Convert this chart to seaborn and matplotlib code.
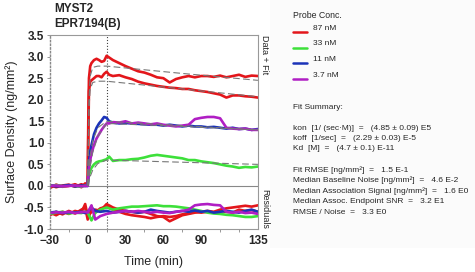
import numpy as np
import pandas as pd
import matplotlib
matplotlib.use("Agg")
import matplotlib.pyplot as plt
import seaborn as sns

# time grid (min) for the sensorgrams
t_data = [-30, -25, -20, -15, -10, -5, -2, 0, 0.5, 1, 2, 3, 5, 7, 9, 11, 13, 15, 17,
          20, 25, 30, 35, 40, 45, 50, 55, 60, 65, 70, 75, 80, 85, 90, 95, 100, 105,
          110, 115, 120, 125, 130, 135]

red_a = [0.02, -0.03, 0.01, 0.03, -0.02, 0.04, 0.00, 0.05, 1.60, 2.50, 2.78, 2.85, 2.92,
         2.95, 2.92, 2.88, 2.90, 3.02, 2.98, 2.92, 2.85, 2.78, 2.72, 2.66, 2.63, 2.58,
         2.52, 2.50, 2.40, 2.48, 2.52, 2.55, 2.52, 2.55, 2.55, 2.53, 2.56, 2.52, 2.55,
         2.58, 2.53, 2.56, 2.55]
red_b = [-0.05, 0.03, -0.02, 0.00, 0.04, -0.03, 0.06, 0.02, 1.20, 2.20, 2.42, 2.45, 2.50,
         2.55, 2.55, 2.52, 2.60, 2.65, 2.58, 2.55, 2.57, 2.52, 2.48, 2.42, 2.38, 2.35,
         2.32, 2.30, 2.28, 2.27, 2.25, 2.25, 2.22, 2.20, 2.18, 2.15, 2.12, 2.05, 2.10,
         2.10, 2.08, 2.07, 2.05]
green = [0.00, 0.02, -0.01, 0.01, 0.00, -0.02, 0.01, 0.02, 0.15, 0.25, 0.35, 0.42, 0.50,
         0.55, 0.57, 0.58, 0.60, 0.62, 0.68, 0.58, 0.60, 0.60, 0.62, 0.63, 0.66, 0.70,
         0.72, 0.70, 0.68, 0.66, 0.64, 0.60, 0.60, 0.57, 0.55, 0.53, 0.50, 0.47, 0.45,
         0.42, 0.44, 0.43, 0.45]
blue = [0.01, -0.01, 0.00, 0.02, -0.01, 0.01, 0.00, 0.00, 0.30, 0.55, 0.80, 0.95, 1.20,
        1.35, 1.45, 1.52, 1.60, 1.58, 1.50, 1.47, 1.45, 1.46, 1.45, 1.44, 1.43, 1.42,
        1.42, 1.40, 1.42, 1.40, 1.38, 1.40, 1.38, 1.38, 1.36, 1.37, 1.35, 1.33, 1.35,
        1.32, 1.33, 1.30, 1.32]
purple = [0.00, 0.01, -0.01, 0.00, 0.01, -0.01, 0.00, 0.00, 0.20, 0.40, 0.60, 0.75, 0.95,
          1.10, 1.20, 1.30, 1.38, 1.45, 1.45, 1.48, 1.47, 1.50, 1.45, 1.47, 1.45, 1.43,
          1.45, 1.42, 1.40, 1.38, 1.40, 1.42, 1.55, 1.58, 1.60, 1.60, 1.57, 1.35, 1.33,
          1.32, 1.33, 1.30, 1.30]

# global fit curves
t_fit = [0, 1, 2, 4, 8, 15, 75, 135]
fit_red_a = [0.0, 2.00, 2.55, 2.75, 2.78, 2.78, 2.61, 2.45]
fit_red_b = [0.0, 1.80, 2.25, 2.40, 2.43, 2.43, 2.25, 2.07]
fit_green = [0.0, 0.12, 0.22, 0.37, 0.52, 0.60, 0.55, 0.50]
fit_blue = [0.0, 0.40, 0.70, 1.05, 1.35, 1.50, 1.40, 1.30]
fit_purple = [0.0, 0.25, 0.45, 0.78, 1.15, 1.45, 1.38, 1.30]

# residuals (drawn offset below zero)
t_res = [-30, -25, -20, -15, -10, -5, -2, 0, 3, 6, 10, 15, 20, 25, 30, 35, 40, 45, 50, 55,
         60, 65, 70, 75, 80, 85, 90, 95, 100, 105, 110, 115, 120, 125, 130, 135]
res_red_a = [-0.62, -0.68, -0.60, -0.65, -0.58, -0.62, -0.42, -0.70, -0.60, -0.55, -0.58,
             -0.42, -0.50, -0.55, -0.58, -0.60, -0.62, -0.60, -0.65, -0.70, -0.72, -0.82,
             -0.75, -0.68, -0.65, -0.62, -0.60, -0.58, -0.60, -0.55, -0.52, -0.50, -0.48,
             -0.46, -0.48, -0.45]
res_red_b = [-0.68, -0.60, -0.66, -0.58, -0.64, -0.55, -0.50, -0.78, -0.55, -0.62, -0.52,
             -0.48, -0.55, -0.60, -0.65, -0.68, -0.70, -0.72, -0.75, -0.72, -0.70, -0.72,
             -0.70, -0.66, -0.64, -0.60, -0.62, -0.60, -0.62, -0.58, -0.60, -0.62, -0.55,
             -0.58, -0.56, -0.60]
res_green = [-0.65, -0.62, -0.60, -0.64, -0.62, -0.63, -0.60, -0.62, -0.80, -0.62, -0.55,
             -0.50, -0.55, -0.52, -0.50, -0.48, -0.48, -0.47, -0.46, -0.45, -0.47, -0.47,
             -0.48, -0.50, -0.52, -0.55, -0.58, -0.62, -0.64, -0.65, -0.67, -0.68, -0.70,
             -0.72, -0.72, -0.70]
res_blue = [-0.62, -0.60, -0.63, -0.61, -0.62, -0.60, -0.63, -0.60, -0.50, -0.58, -0.60,
            -0.58, -0.62, -0.60, -0.58, -0.60, -0.62, -0.60, -0.55, -0.58, -0.60, -0.62,
            -0.60, -0.58, -0.60, -0.57, -0.60, -0.58, -0.62, -0.60, -0.58, -0.60, -0.62,
            -0.58, -0.55, -0.60]
res_purple = [-0.63, -0.61, -0.62, -0.60, -0.63, -0.61, -0.60, -0.62, -0.45, -0.78, -0.70,
              -0.65, -0.62, -0.60, -0.58, -0.60, -0.58, -0.60, -0.62, -0.60, -0.62, -0.63,
              -0.60, -0.58, -0.55, -0.45, -0.43, -0.42, -0.44, -0.45, -0.60, -0.62, -0.60,
              -0.63, -0.62, -0.65]

conc_labels = ["87 nM", "33 nM", "11 nM", "3.7 nM"]
conc_colors = ["#e3161b", "#3de03a", "#1b33b8", "#b01ec4"]

summary_lines = [
    "kon  [1/ (sec\u00b7M)]  =   (4.85 \u00b1 0.09) E5",
    "koff  [1/sec]  =   (2.29 \u00b1 0.03) E-5",
    "Kd  [M]  =   (4.7 \u00b1 0.1) E-11",
    "",
    "Fit RMSE [ng/mm\u00b2]  =   1.5 E-1",
    "Median Baseline Noise [ng/mm\u00b2]  =   4.6 E-2",
    "Median Association Signal [ng/mm\u00b2]  =   1.6 E0",
    "Median Assoc. Endpoint SNR  =   3.2 E1",
    "RMSE / Noise  =   3.3 E0",
]

sns.set_style("white")
plt.rcParams["font.family"] = ["Liberation Sans", "DejaVu Sans"]

fig = plt.figure(figsize=(4.75, 2.72), dpi=100)
fig.patches.append(plt.Rectangle((0.568, 0.088), 0.432, 0.912, transform=fig.transFigure,
                                 facecolor="#fbfbfb", edgecolor="none", zorder=0))
ax = fig.add_axes([0.105, 0.158, 0.438, 0.713])

series = [
    (red_a, fit_red_a, res_red_a, conc_colors[0]),
    (red_b, fit_red_b, res_red_b, conc_colors[0]),
    (green, fit_green, res_green, conc_colors[1]),
    (blue, fit_blue, res_blue, conc_colors[2]),
    (purple, fit_purple, res_purple, conc_colors[3]),
]
for vals, fit, res, col in series:
    sns.lineplot(x=t_data, y=vals, color=col, linewidth=1.9, ax=ax, estimator=None)
    sns.lineplot(x=t_res, y=res, color=col, linewidth=1.9, ax=ax, estimator=None)
for vals, fit, res, col in series:
    sns.lineplot(x=t_fit, y=fit, color="#777777", linewidth=0.8, linestyle=(0, (6, 3)),
                 ax=ax, estimator=None)

ax.axhline(0, color="#888888", linewidth=0.8, zorder=0)
ax.axvline(15, color="#444444", linewidth=0.8, linestyle=":", zorder=0)

ax.set_xlim(-30, 135)
ax.set_ylim(-1.0, 3.5)
ax.set_xticks([-30, 0, 30, 60, 90, 135])
ax.set_xticks(np.arange(-30, 136, 15), minor=True)
ax.set_yticks(np.arange(-1.0, 3.51, 0.5))
ax.set_yticklabels([f"{v:.1f}" for v in np.arange(-1.0, 3.51, 0.5)])
ax.tick_params(axis="both", which="major", labelsize=8.5, length=2, width=0.6,
               color="#888888", pad=2)
ax.tick_params(axis="x", which="minor", length=2, width=0.6, color="#888888",
               bottom=True)
ax.tick_params(axis="y", left=True)
for lab in ax.get_xticklabels() + ax.get_yticklabels():
    lab.set_fontweight("bold")
for side in ["top", "right", "bottom"]:
    ax.spines[side].set_color("#999999")
    ax.spines[side].set_linewidth(0.8)
ax.spines["left"].set_color("#888888")
ax.spines["left"].set_linestyle(":")
ax.spines["left"].set_linewidth(1.0)

ax.set_xlabel("Time (min)", fontsize=9, labelpad=7)
ax.set_ylabel("Surface Density (ng/mm\u00b2)", fontsize=9, labelpad=4)

fig.text(0.115, 1 - 9 / 272, "MYST2", fontsize=8.5, fontweight="bold", va="center")
fig.text(0.115, 1 - 24 / 272, "EPR7194(B)", fontsize=8.5, fontweight="bold", va="center")

fig.text(0.557, 0.87, "Data + Fit", fontsize=6.5, rotation=-90, va="top", ha="center")
fig.text(0.557, 0.16, "Residuals", fontsize=6.5, rotation=-90, va="bottom", ha="center")

# legend / fit summary panel
x0 = 293 / 475
fig.text(x0, 1 - 15 / 272, "Probe Conc.", fontsize=6.3, va="center")
for i, (lab, col) in enumerate(zip(conc_labels, conc_colors)):
    yl = 1 - (32 + 15.7 * i) / 272
    fig.add_artist(plt.Line2D([x0, x0 + 14 / 475], [yl, yl], color=col, linewidth=1.8,
                              transform=fig.transFigure))
    fig.text(x0 + 20 / 475, yl + 4 / 272, lab, fontsize=6, va="center")
fig.text(x0, 1 - 108 / 272, "Fit Summary:", fontsize=6, va="center")
for i, line in enumerate(summary_lines):
    fig.text(x0, 1 - (128 + 10.5 * i) / 272, line, fontsize=6, va="center")

fig.savefig("out.png", dpi=100)
